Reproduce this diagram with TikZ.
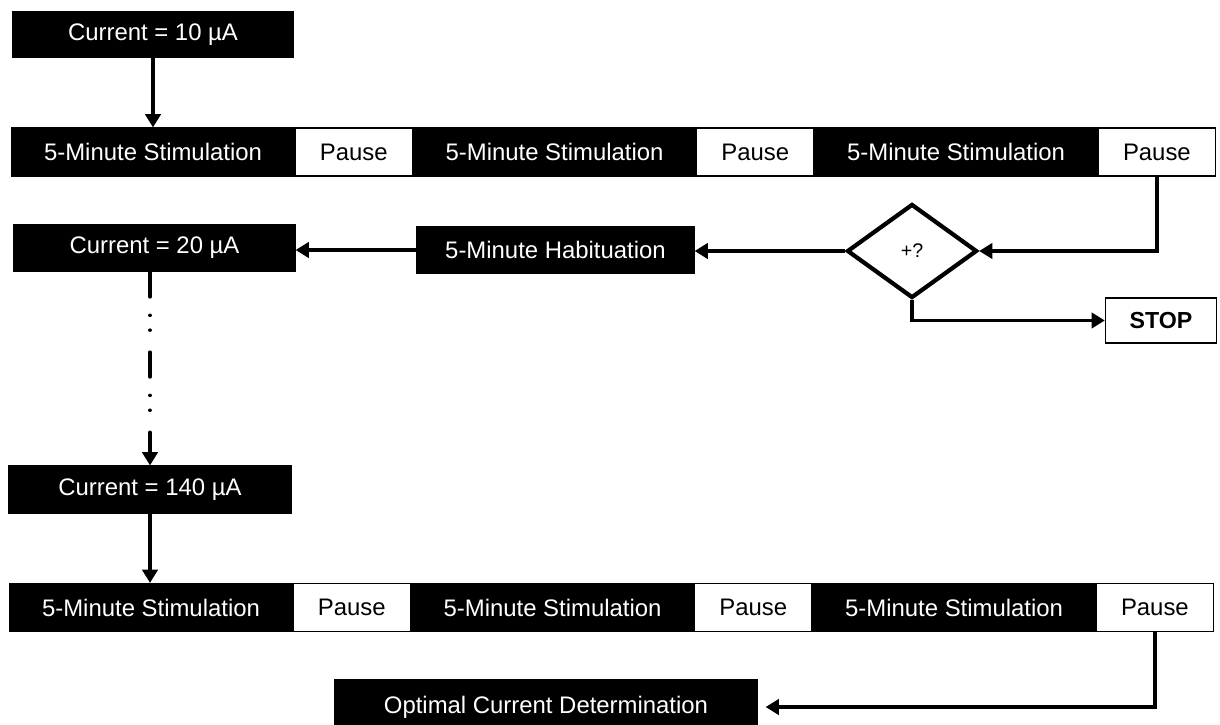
\documentclass[tikz,border=0pt]{standalone}
\usepackage{fontspec}
\setmainfont{Liberation Sans}
\usetikzlibrary{arrows.meta,positioning,shapes.geometric}
\tikzset{
  stimbox/.style={
    rectangle, draw=black, fill=black, text=white, line width=0.8pt,
    minimum width=7.05cm, minimum height=1.2cm, inner sep=0pt,
    font=\fontsize{17}{20}\selectfont
  },
  pausebox/.style={
    rectangle, draw=black, fill=white, line width=0.8pt,
    minimum width=2.93cm, minimum height=1.2cm, inner sep=0pt,
    font=\fontsize{17}{20}\selectfont
  },
  curbox/.style={stimbox, minimum width=7.05cm, minimum height=1.175cm},
  decbox/.style={
    diamond, draw=black, fill=white, line width=3pt,
    minimum width=3.25cm, minimum height=2.35cm, inner sep=0pt,
    font=\fontsize{14}{16}\selectfont
  },
  stopbox/.style={
    rectangle, draw=black, fill=white, line width=0.8pt,
    minimum width=2.78cm, minimum height=1.125cm, inner sep=0pt,
    font=\fontsize{16.5}{20}\selectfont\bfseries
  },
  flowarrow/.style={-{Triangle[length=0.33cm,width=0.38cm]}, line width=2.5pt}
}
\begin{document}
\begin{tikzpicture}[x=0.025cm, y=-0.025cm]
  \useasboundingbox (0,0) rectangle (1220,724);

  % Start
  \node[curbox, minimum width=7cm, minimum height=1.125cm] (cur10) at (153,34.5) {Current = 10 µA};

  % First stimulation series
  \node[stimbox] (s11) at (153,152) {5-Minute Stimulation};
  \node[pausebox, right=0pt of s11] (p11) {Pause};
  \node[stimbox, right=0pt of p11] (s12) {5-Minute Stimulation};
  \node[pausebox, right=0pt of s12] (p12) {Pause};
  \node[stimbox, right=0pt of p12] (s13) {5-Minute Stimulation};
  \node[pausebox, right=0pt of s13] (p13) {Pause};

  % Decision
  \node[decbox] (dec) at (912,251) {+?};
  \node[stopbox] (stop) at (1161,320.5) {STOP};
  \node[curbox, minimum width=6.925cm] (hab) at (555.5,250) {5-Minute Habituation};
  \node[curbox, minimum width=7.025cm] (cur20) at (154.5,248) {Current = 20 µA};

  % Last current
  \node[curbox, minimum width=7.075cm] (cur140) at (150,489.5) {Current = 140 µA};

  % Last stimulation series
  \node[stimbox] (s21) at (151,607.5) {5-Minute Stimulation};
  \node[pausebox, right=0pt of s21] (p21) {Pause};
  \node[stimbox, right=0pt of p21] (s22) {5-Minute Stimulation};
  \node[pausebox, right=0pt of s22] (p22) {Pause};
  \node[stimbox, right=0pt of p22] (s23) {5-Minute Stimulation};
  \node[pausebox, right=0pt of s23] (p23) {Pause};

  % Result
  \node[curbox, minimum width=10.55cm, minimum height=1.35cm] (opt) at (546,707) {Optimal Current Determination};

  % Arrows
  \draw[flowarrow] (cur10.south) -- (cur10.south |- s11.north);
  \draw[flowarrow] (p13.south) |- (dec.east);
  \draw[flowarrow] (dec.west) -- (dec.west -| hab.east);
  \draw[flowarrow] (hab.west) -- (hab.west -| cur20.east);
  \draw[flowarrow] (dec.south) |- (stop.west);
  \draw[flowarrow, line cap=round, dash pattern=on 0.62cm off 0.46cm on 0.001cm off 0.37cm on 0.001cm off 0.55cm]
    (cur140.north |- cur20.south) -- (cur140.north);
  \draw[flowarrow] (cur140.south) -- (cur140.south |- s21.north);
  \draw[flowarrow, shorten >=0.2cm] (p23.south) |- (opt.east);
\end{tikzpicture}
\end{document}
